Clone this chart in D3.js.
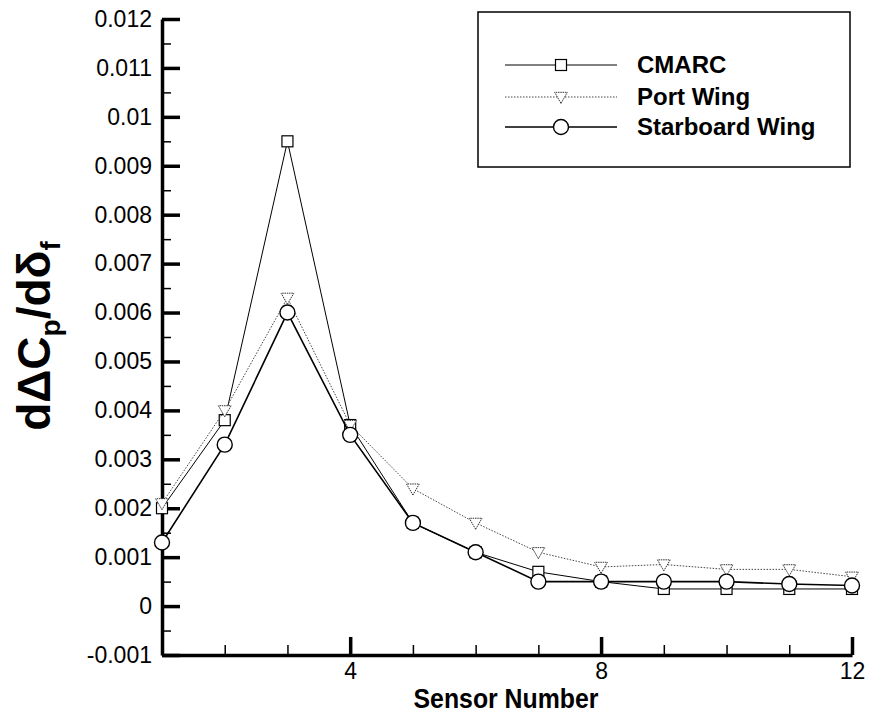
<!DOCTYPE html>
<html>
<head>
<meta charset="utf-8">
<script src="https://cdn.jsdelivr.net/npm/d3@7"></script>
<style>
  body{margin:0;background:#fff;}
  svg{display:block;font-family:"Liberation Sans",Arial,sans-serif;}
</style>
</head>
<body>
<svg id="chart"></svg>
<script>
// data
var sensors = [1,2,3,4,5,6,7,8,9,10,11,12];
var cmarc = [0.0020,0.0038,0.0095,0.0037,0.0017,0.0011,0.0007,0.0005,0.00035,0.00035,0.00035,0.00035];
var portWing = [0.0021,0.0040,0.0063,0.0037,0.0024,0.0017,0.0011,0.0008,0.00085,0.00075,0.00075,0.0006];
var starboardWing = [0.0013,0.0033,0.0060,0.0035,0.0017,0.0011,0.0005,0.0005,0.0005,0.0005,0.00045,0.00042];

var yTicks = [-0.001,0,0.001,0.002,0.003,0.004,0.005,0.006,0.007,0.008,0.009,0.01,0.011,0.012];
var yTickLabels = ["-0.001","0","0.001","0.002","0.003","0.004","0.005","0.006","0.007","0.008","0.009","0.01","0.011","0.012"];
var xTicks = [4,8,12];
var xMinorTicks = [2,3,5,6,7,9,10,11];
var seriesNames = ["CMARC","Port Wing","Starboard Wing"];

var width = 871, height = 722;
var svg = d3.select("#chart").attr("width",width).attr("height",height);

var xScale = d3.scaleLinear().domain([1,12]).range([162,852]);
var yScale = d3.scaleLinear().domain([-0.001,0.012]).range([655,19]);

// minor ticks
var yMinor = yTicks.slice(0,-1).map(function(d){return d+0.0005;});
svg.append("g")
   .attr("transform","translate(162,0)")
   .call(d3.axisLeft(yScale).tickValues(yMinor).tickSize(-9).tickSizeOuter(0).tickFormat(""))
   .call(function(g){g.select(".domain").remove();g.selectAll("line").attr("stroke-width",1.5);});
svg.append("g")
   .attr("transform","translate(0,655)")
   .call(d3.axisBottom(xScale).tickValues(xMinorTicks).tickSize(-10).tickSizeOuter(0).tickFormat(""))
   .call(function(g){g.select(".domain").remove();g.selectAll("line").attr("stroke-width",1.5);});

// major axes
var yAxis = d3.axisLeft(yScale)
              .tickValues(yTicks)
              .tickSize(-18)
              .tickSizeOuter(0)
              .tickPadding(10)
              .tickFormat(function(d,i){return yTickLabels[i];});
svg.append("g")
   .attr("transform","translate(162,0)")
   .call(yAxis)
   .call(function(g){
     g.select(".domain").attr("stroke-width",3.5);
     g.selectAll(".tick line").attr("stroke-width",3.5);
     g.selectAll("text").attr("font-size",23).attr("fill","#000").attr("font-family","Liberation Sans, Arial, sans-serif");
   });

var xAxis = d3.axisBottom(xScale)
              .tickValues(xTicks)
              .tickSize(-18)
              .tickSizeOuter(0)
              .tickPadding(8);
svg.append("g")
   .attr("transform","translate(0,655)")
   .call(xAxis)
   .call(function(g){
     g.select(".domain").attr("stroke-width",3.5);
     g.selectAll(".tick line").attr("stroke-width",3.5);
     g.selectAll("text").attr("font-size",23).attr("fill","#000").attr("font-family","Liberation Sans, Arial, sans-serif");
   });

// titles
svg.append("text")
   .attr("x",506).attr("y",708)
   .attr("text-anchor","middle")
   .attr("font-size",27).attr("font-weight","bold")
   .attr("textLength",185).attr("lengthAdjust","spacingAndGlyphs")
   .text("Sensor Number");

var yt = svg.append("text")
   .attr("transform","translate(50,336) rotate(-90)")
   .attr("text-anchor","middle")
   .attr("font-size",46).attr("font-weight","bold");
yt.append("tspan").text("d\u0394C");
yt.append("tspan").attr("font-size",28).attr("dy",10).text("p");
yt.append("tspan").attr("dy",-10).text("/d\u03b4");
yt.append("tspan").attr("font-size",28).attr("dy",10).text("f");

// series
var seriesData = [cmarc,portWing,starboardWing];
var styles = [
  {stroke:"#000",width:1,dash:null,marker:"square"},
  {stroke:"#444",width:1,dash:"1.5,1.5",marker:"triangle"},
  {stroke:"#000",width:1.6,dash:null,marker:"circle"}
];

var line = d3.line()
  .x(function(d){return xScale(d[0]);})
  .y(function(d){return yScale(d[1]);});

function drawMarker(g,type,cx,cy){
  if(type=="square"){
    g.append("rect").attr("x",cx-5.5).attr("y",cy-5.5).attr("width",11).attr("height",11)
     .attr("fill","#fff").attr("stroke","#000").attr("stroke-width",1.2);
  } else if(type=="triangle"){
    g.append("path").attr("d",d3.symbol().type(d3.symbolTriangle).size(70)())
     .attr("transform","translate("+cx+","+(cy-1)+") rotate(180)")
     .attr("fill","#fff").attr("stroke","#333").attr("stroke-width",1).attr("stroke-dasharray","1.5,0.8");
  } else {
    g.append("circle").attr("cx",cx).attr("cy",cy).attr("r",7.5)
     .attr("fill","#fff").attr("stroke","#000").attr("stroke-width",1.4);
  }
}

seriesData.forEach(function(vals,si){
  var pts = sensors.map(function(s,i){return [s,vals[i]];});
  var st = styles[si];
  svg.append("path")
     .datum(pts)
     .attr("d",line)
     .attr("fill","none")
     .attr("stroke",st.stroke)
     .attr("stroke-width",st.width)
     .attr("stroke-dasharray",st.dash);
  var g = svg.append("g");
  pts.forEach(function(p){
    drawMarker(g,st.marker,xScale(p[0]),yScale(p[1]));
  });
});

// legend
var legend = svg.append("g");
legend.append("rect")
      .attr("x",478).attr("y",12).attr("width",372).attr("height",155)
      .attr("fill","#fff").attr("stroke","#000").attr("stroke-width",1.5);
var rowY = [65,97,127];
seriesNames.forEach(function(name,i){
  var st = styles[i];
  legend.append("line")
        .attr("x1",505).attr("x2",617).attr("y1",rowY[i]).attr("y2",rowY[i])
        .attr("stroke",st.stroke).attr("stroke-width",st.width).attr("stroke-dasharray",st.dash);
  drawMarker(legend,st.marker,561,rowY[i]);
  legend.append("text")
        .attr("x",637).attr("y",rowY[i]+8)
        .attr("font-size",24).attr("font-weight","bold")
        .text(name);
});
</script>
</body>
</html>
